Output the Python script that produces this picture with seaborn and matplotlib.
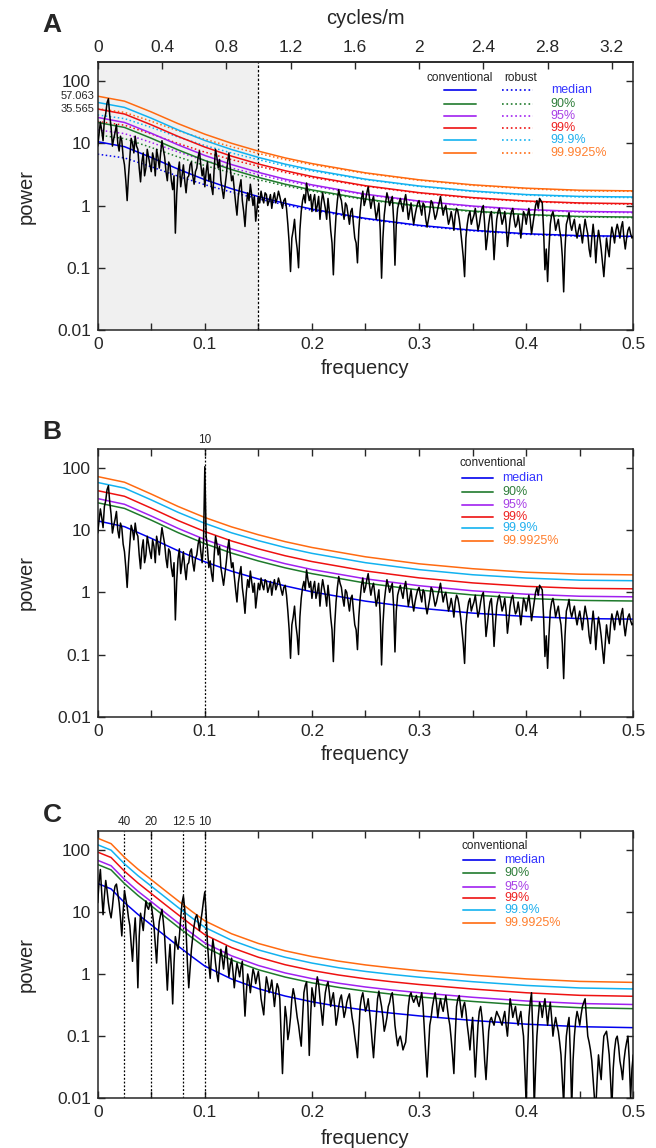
import numpy as np
import matplotlib
matplotlib.use("Agg")
import matplotlib.pyplot as plt
import matplotlib.transforms as mtransforms
from matplotlib.ticker import NullLocator
import seaborn as sns

sns.set_style("ticks")
plt.rcParams['font.family'] = ['Liberation Sans', 'DejaVu Sans']

# spectrum frequencies (cycles per sample), 0 .. 0.5
freq = np.linspace(0, 0.5, 401)

# panel A spectrum
power_a = [
    9, 14, 22, 16, 11, 24, 30, 45, 52, 28, 18, 9, 12, 15, 20, 10, 7.5, 13, 11, 6,
    4.5, 2.5, 1.2, 3, 6, 12, 10, 7, 13, 9, 8, 4, 2.4, 5, 7, 3, 4, 8, 6, 4.5,
    3.5, 7, 5.5, 3, 8, 6, 4, 7, 11, 8, 6, 3.5, 2.5, 5, 4.5, 2.5, 1.8, 3, 0.36, 1.5,
    3.5, 5, 2, 3, 4.5, 2.5, 1.6, 2.8, 3, 4.5, 5, 3, 2.2, 3.5, 4, 6, 7.5, 4.5, 3, 4,
    2, 3.5, 5, 2.5, 3.2, 2, 1.5, 4, 8, 6, 4, 5.5, 2.5, 1.8, 1.3, 2, 3, 5, 7, 4,
    2.5, 3, 1.8, 1.1, 0.7, 1.4, 2, 2.6, 1.2, 0.8, 0.46, 1, 1.6, 1.2, 2.2, 1.5, 1, 1.4, 0.56, 0.9,
    1.4, 1.1, 1.7, 1.3, 1.1, 1.6, 1.5, 1.0, 1.2, 1.5, 0.9, 1.3, 1.6, 1.1, 1.3, 1.7, 1.4, 1.1, 0.9, 1.2,
    1.3, 0.9, 0.5, 0.25, 0.087, 0.3, 0.4, 0.6, 0.3, 0.2, 0.1, 0.4, 0.8, 1.2, 1.5, 1.1, 2.3, 1.6, 1.2, 1.5,
    0.8, 1.2, 1.5, 0.8, 1.0, 1.4, 0.6, 1.1, 1.6, 1.2, 0.9, 0.6, 1.3, 0.8, 0.4, 0.25, 0.077, 0.3, 0.7, 1.2,
    1.8, 1.4, 1.2, 0.8, 0.6, 1.1, 1.0, 0.7, 0.5, 0.8, 0.9, 0.5, 0.3, 0.25, 0.12, 0.4, 0.8, 1.3, 1.7, 1.0,
    1.2, 1.6, 2.0, 1.3, 0.9, 1.2, 1.4, 0.9, 0.6, 0.8, 1.1, 0.4, 0.068, 0.3, 0.7, 1.1, 1.6, 1.3, 1.0, 1.2,
    1.4, 0.6, 0.11, 0.5, 0.9, 1.1, 1.3, 1.0, 0.8, 1.2, 1.5, 1.0, 0.6, 0.8, 1.1, 0.7, 0.5, 0.7, 0.9, 1.1,
    1.2, 0.9, 0.7, 1.1, 1.0, 0.6, 0.45, 0.6, 0.8, 1.2, 1.1, 0.8, 0.6, 0.7, 0.9, 1.1, 1.4, 1.0, 0.7, 0.9,
    1.0, 0.7, 0.5, 0.6, 0.8, 0.6, 0.4, 0.7, 0.9, 0.8, 0.6, 0.4, 0.25, 0.15, 0.072, 0.3, 0.5, 0.7, 0.8, 0.5,
    0.6, 0.7, 0.9, 0.6, 0.4, 0.5, 0.7, 0.9, 1.0, 0.5, 0.195, 0.3, 0.5, 0.7, 0.8, 0.4, 0.135, 0.3, 0.6, 0.8,
    0.9, 0.7, 0.5, 0.6, 0.8, 0.5, 0.22, 0.35, 0.6, 0.8, 0.9, 0.6, 0.45, 0.5, 0.7, 0.5, 0.3, 0.5, 0.8, 0.7,
    0.5, 0.7, 0.9, 0.6, 0.35, 0.5, 0.7, 1.0, 1.2, 0.9, 1.3, 1.2, 1.1, 0.4, 0.093, 0.2, 0.06, 0.2, 0.5, 0.7,
    0.8, 0.6, 0.4, 0.5, 0.6, 0.4, 0.3, 0.15, 0.041, 0.2, 0.5, 0.6, 0.77, 0.5, 0.4, 0.5, 0.6, 0.4, 0.3, 0.4,
    0.5, 0.35, 0.25, 0.4, 0.6, 0.45, 0.35, 0.2, 0.15, 0.3, 0.5, 0.3, 0.12, 0.25, 0.4, 0.3, 0.2, 0.12, 0.072, 0.15,
    0.3, 0.2, 0.15, 0.3, 0.45, 0.35, 0.25, 0.4, 0.5, 0.4, 0.3, 0.45, 0.55, 0.3, 0.2, 0.3, 0.4, 0.45, 0.35, 0.3,
    0.32,
]

# panel B spectrum (same record plus a sinusoid at f = 0.1)
power_b = [
    9, 14, 22, 16, 11, 24, 30, 45, 52, 28, 18, 9, 12, 15, 20, 10, 7.5, 13, 11, 6,
    4.5, 2.5, 1.2, 3, 6, 12, 10, 7, 13, 9, 8, 4, 2.4, 5, 7, 3, 4, 8, 6, 4.5,
    3.5, 7, 5.5, 3, 8, 6, 4, 7, 11, 8, 6, 3.5, 2.5, 5, 4.5, 2.5, 1.8, 3, 0.36, 1.5,
    3.5, 5, 2, 3, 4.5, 2.5, 1.6, 2.8, 3, 4.5, 5, 3, 2.2, 3.5, 4, 6, 7.5, 4.5, 3, 6,
    105, 8, 5, 2.5, 3.2, 2, 1.5, 4, 8, 6, 4, 5.5, 2.5, 1.8, 1.3, 2, 3, 5, 7, 4,
    2.5, 3, 1.8, 1.1, 0.7, 1.4, 2, 2.6, 1.2, 0.8, 0.46, 1, 1.6, 1.2, 2.2, 1.5, 1, 1.4, 0.56, 0.9,
    1.4, 1.1, 1.7, 1.3, 1.1, 1.6, 1.5, 1.0, 1.2, 1.5, 0.9, 1.3, 1.6, 1.1, 1.3, 1.7, 1.4, 1.1, 0.9, 1.2,
    1.3, 0.9, 0.5, 0.25, 0.087, 0.3, 0.4, 0.6, 0.3, 0.2, 0.1, 0.4, 0.8, 1.2, 1.5, 1.1, 2.3, 1.6, 1.2, 1.5,
    0.8, 1.2, 1.5, 0.8, 1.0, 1.4, 0.6, 1.1, 1.6, 1.2, 0.9, 0.6, 1.3, 0.8, 0.4, 0.25, 0.077, 0.3, 0.7, 1.2,
    1.8, 1.4, 1.2, 0.8, 0.6, 1.1, 1.0, 0.7, 0.5, 0.8, 0.9, 0.5, 0.3, 0.25, 0.12, 0.4, 0.8, 1.3, 1.7, 1.0,
    1.2, 1.6, 2.0, 1.3, 0.9, 1.2, 1.4, 0.9, 0.6, 0.8, 1.1, 0.4, 0.068, 0.3, 0.7, 1.1, 1.6, 1.3, 1.0, 1.2,
    1.4, 0.6, 0.11, 0.5, 0.9, 1.1, 1.3, 1.0, 0.8, 1.2, 1.5, 1.0, 0.6, 0.8, 1.1, 0.7, 0.5, 0.7, 0.9, 1.1,
    1.2, 0.9, 0.7, 1.1, 1.0, 0.6, 0.45, 0.6, 0.8, 1.2, 1.1, 0.8, 0.6, 0.7, 0.9, 1.1, 1.4, 1.0, 0.7, 0.9,
    1.0, 0.7, 0.5, 0.6, 0.8, 0.6, 0.4, 0.7, 0.9, 0.8, 0.6, 0.4, 0.25, 0.15, 0.072, 0.3, 0.5, 0.7, 0.8, 0.5,
    0.6, 0.7, 0.9, 0.6, 0.4, 0.5, 0.7, 0.9, 1.0, 0.5, 0.195, 0.3, 0.5, 0.7, 0.8, 0.4, 0.135, 0.3, 0.6, 0.8,
    0.9, 0.7, 0.5, 0.6, 0.8, 0.5, 0.22, 0.35, 0.6, 0.8, 0.9, 0.6, 0.45, 0.5, 0.7, 0.5, 0.3, 0.5, 0.8, 0.7,
    0.5, 0.7, 0.9, 0.6, 0.35, 0.5, 0.7, 1.0, 1.2, 0.9, 1.3, 1.2, 1.1, 0.4, 0.093, 0.2, 0.06, 0.2, 0.5, 0.7,
    0.8, 0.6, 0.4, 0.5, 0.6, 0.4, 0.3, 0.15, 0.041, 0.2, 0.5, 0.6, 0.77, 0.5, 0.4, 0.5, 0.6, 0.4, 0.3, 0.4,
    0.5, 0.35, 0.25, 0.4, 0.6, 0.45, 0.35, 0.2, 0.15, 0.3, 0.5, 0.3, 0.12, 0.25, 0.4, 0.3, 0.2, 0.12, 0.072, 0.15,
    0.3, 0.2, 0.15, 0.3, 0.45, 0.35, 0.25, 0.4, 0.5, 0.4, 0.3, 0.45, 0.55, 0.3, 0.2, 0.3, 0.4, 0.45, 0.35, 0.3,
    0.32,
]

# panel C spectrum
power_c = [
    14, 30, 48, 20, 9, 18, 32, 22, 14, 10, 8, 12, 20, 26, 28, 20, 14, 8, 4.1, 10,
    22, 16, 12, 8, 6, 3, 1.6, 4, 8, 3, 0.6, 4, 9.5, 7, 5, 9, 15, 12, 11, 14,
    13, 9, 6, 3, 1.5, 4, 7, 9, 11, 7, 4, 1.5, 0.55, 1.5, 3, 1.2, 0.33, 1.5, 4, 3,
    2.5, 4, 8, 14, 18, 11, 5, 1.5, 0.6, 1.2, 2.5, 4, 6, 8, 9, 7, 5, 7, 10, 15,
    21, 9, 3, 1.5, 0.85, 2, 3.6, 2.5, 1.5, 1.0, 0.75, 1.5, 2.5, 1.8, 1.2, 2, 2.8, 1.6, 0.9, 1.4,
    1.8, 1.1, 0.6, 1.0, 1.5, 1.2, 0.9, 1.3, 1.6, 0.6, 0.21, 0.5, 1.0, 0.8, 0.5, 0.8, 1.2, 1.0, 0.7, 0.9,
    1.1, 0.7, 0.4, 0.3, 0.22, 0.5, 0.9, 0.7, 0.5, 0.6, 0.8, 0.5, 0.3, 0.5, 0.7, 0.6, 0.4, 0.1, 0.025, 0.1,
    0.3, 0.2, 0.088, 0.12, 0.2, 0.4, 0.58, 0.45, 0.3, 0.2, 0.15, 0.1, 0.069, 0.2, 0.5, 0.65, 0.75, 0.3, 0.049, 0.2,
    0.6, 0.45, 0.3, 0.6, 0.9, 0.7, 0.4, 0.25, 0.15, 0.3, 0.5, 0.65, 0.75, 0.5, 0.3, 0.4, 0.5, 0.3, 0.15, 0.2,
    0.3, 0.4, 0.46, 0.3, 0.2, 0.25, 0.35, 0.42, 0.48, 0.3, 0.2, 0.15, 0.1, 0.07, 0.045, 0.12, 0.3, 0.42, 0.5, 0.35,
    0.25, 0.3, 0.4, 0.25, 0.15, 0.08, 0.045, 0.1, 0.2, 0.4, 0.53, 0.4, 0.3, 0.2, 0.12, 0.15, 0.2, 0.3, 0.35, 0.45,
    0.5, 0.3, 0.15, 0.1, 0.07, 0.09, 0.1, 0.08, 0.06, 0.07, 0.08, 0.15, 0.3, 0.45, 0.5, 0.4, 0.35, 0.4, 0.45, 0.35,
    0.3, 0.4, 0.5, 0.3, 0.12, 0.05, 0.022, 0.06, 0.15, 0.2, 0.3, 0.4, 0.5, 0.35, 0.2, 0.3, 0.4, 0.3, 0.25, 0.35,
    0.45, 0.3, 0.2, 0.15, 0.09, 0.05, 0.025, 0.1, 0.3, 0.4, 0.45, 0.3, 0.2, 0.3, 0.35, 0.25, 0.15, 0.1, 0.06, 0.12,
    0.2, 0.07, 0.022, 0.06, 0.15, 0.25, 0.3, 0.2, 0.1, 0.04, 0.02, 0.05, 0.12, 0.18, 0.2, 0.17, 0.15, 0.2, 0.25, 0.22,
    0.2, 0.17, 0.15, 0.2, 0.25, 0.15, 0.1, 0.2, 0.4, 0.3, 0.2, 0.25, 0.3, 0.2, 0.15, 0.2, 0.25, 0.15, 0.1, 0.03,
    0.008, 0.05, 0.2, 0.35, 0.5, 0.1, 0.007, 0.03, 0.1, 0.2, 0.35, 0.3, 0.2, 0.3, 0.4, 0.25, 0.15, 0.25, 0.35, 0.2,
    0.1, 0.15, 0.2, 0.15, 0.12, 0.08, 0.05, 0.02, 0.008, 0.04, 0.1, 0.15, 0.2, 0.05, 0.007, 0.04, 0.1, 0.18, 0.25, 0.2,
    0.15, 0.22, 0.3, 0.35, 0.4, 0.2, 0.1, 0.08, 0.06, 0.04, 0.02, 0.01, 0.007, 0.02, 0.05, 0.03, 0.02, 0.05, 0.1, 0.11,
    0.12, 0.08, 0.05, 0.02, 0.007, 0.03, 0.06, 0.09, 0.1, 0.07, 0.04, 0.03, 0.02, 0.04, 0.06, 0.08, 0.1, 0.04, 0.01, 0.03,
    0.05,
]

# confidence levels
level_names = ['median', '90%', '95%', '99%', '99.9%', '99.9925%']
line_colors = ['#0000ee', '#1f7a2c', '#a020f0', '#ee1111', '#12b2f0', '#ff6a10']
text_colors = ['#3535ff', '#2e7d3a', '#a840e6', '#ee2222', '#22b0ee', '#ff8030']

level_freq_ab = [0, 0.025, 0.05, 0.075, 0.1, 0.125, 0.15, 0.175, 0.2, 0.25, 0.3, 0.35, 0.4, 0.45, 0.5]

# A, conventional
a_conv_median = [10.6, 8.82, 5.91, 3.85, 2.60, 1.86, 1.39, 1.08, 0.876, 0.621, 0.481, 0.400, 0.352, 0.328, 0.320]
a_conv_90 = [21.6, 17.97, 12.05, 7.84, 5.29, 3.78, 2.83, 2.20, 1.78, 1.27, 0.981, 0.814, 0.717, 0.667, 0.652]
a_conv_95 = [26.0, 21.6, 14.5, 9.44, 6.37, 4.55, 3.41, 2.65, 2.15, 1.52, 1.18, 0.980, 0.863, 0.803, 0.785]
a_conv_99 = [35.5, 29.5, 19.8, 12.9, 8.70, 6.21, 4.65, 3.62, 2.93, 2.08, 1.61, 1.34, 1.18, 1.10, 1.07]
a_conv_999 = [45.3, 37.7, 25.3, 16.4, 11.1, 7.93, 5.93, 4.62, 3.74, 2.65, 2.06, 1.71, 1.50, 1.40, 1.37]
a_conv_top = [57.1, 47.5, 31.9, 20.7, 14.0, 9.99, 7.48, 5.82, 4.72, 3.35, 2.59, 2.15, 1.90, 1.76, 1.72]

# A, robust
a_rob_median = [6.68, 5.82, 4.20, 2.96, 2.16, 1.64, 1.28, 1.02, 0.841, 0.609, 0.471, 0.392, 0.345, 0.321, 0.314]
a_rob_90 = [13.6, 11.9, 8.56, 6.04, 4.39, 3.33, 2.60, 2.07, 1.71, 1.24, 0.961, 0.798, 0.703, 0.654, 0.639]
a_rob_95 = [16.4, 14.3, 10.3, 7.27, 5.29, 4.00, 3.14, 2.49, 2.06, 1.49, 1.16, 0.960, 0.846, 0.787, 0.769]
a_rob_99 = [22.4, 19.5, 14.1, 9.93, 7.22, 5.46, 4.28, 3.40, 2.81, 2.04, 1.58, 1.31, 1.16, 1.08, 1.05]
a_rob_999 = [28.5, 24.9, 18.0, 12.6, 9.21, 6.98, 5.46, 4.34, 3.59, 2.60, 2.02, 1.68, 1.47, 1.37, 1.34]
a_rob_top = [36.0, 31.4, 22.6, 15.9, 11.6, 8.79, 6.88, 5.47, 4.53, 3.28, 2.54, 2.11, 1.86, 1.72, 1.69]

# B, conventional
b_conv_median = [14.1, 11.4, 7.39, 4.67, 3.10, 2.19, 1.64, 1.27, 1.02, 0.722, 0.558, 0.464, 0.409, 0.379, 0.371]
b_conv_90 = [27.6, 22.4, 14.5, 9.14, 6.07, 4.28, 3.20, 2.48, 2.00, 1.41, 1.09, 0.908, 0.800, 0.742, 0.726]
b_conv_95 = [32.2, 26.1, 16.9, 10.7, 7.08, 4.99, 3.74, 2.89, 2.33, 1.65, 1.28, 1.06, 0.934, 0.866, 0.847]
b_conv_99 = [43.2, 35.1, 22.6, 14.3, 9.50, 6.70, 5.01, 3.88, 3.13, 2.21, 1.71, 1.42, 1.25, 1.16, 1.14]
b_conv_999 = [58.5, 47.5, 30.7, 19.4, 12.9, 9.07, 6.79, 5.26, 4.24, 3.00, 2.32, 1.92, 1.70, 1.57, 1.54]
b_conv_top = [72.8, 59.1, 38.1, 24.1, 16.0, 11.3, 8.44, 6.54, 5.27, 3.73, 2.88, 2.40, 2.11, 1.96, 1.91]

# C, conventional
level_freq_c = [0, 0.0125, 0.025, 0.0375, 0.05, 0.0625, 0.075, 0.0875, 0.1, 0.125, 0.15, 0.175, 0.2,
                0.225, 0.25, 0.275, 0.3, 0.35, 0.4, 0.45, 0.5]
c_conv_median = [28.6, 23.4, 14.1, 9.12, 6.17, 4.17, 2.82, 1.93, 1.34, 0.83, 0.58, 0.442, 0.357,
                 0.301, 0.262, 0.234, 0.212, 0.179, 0.156, 0.142, 0.137]
c_conv_90 = [57.8, 47.3, 28.5, 18.4, 12.5, 8.42, 5.70, 3.90, 2.71, 1.68, 1.17, 0.893, 0.721,
             0.608, 0.529, 0.473, 0.428, 0.362, 0.315, 0.287, 0.277]
c_conv_95 = [67.5, 55.2, 33.3, 21.5, 14.6, 9.84, 6.66, 4.55, 3.16, 1.96, 1.37, 1.04, 0.843,
             0.710, 0.618, 0.552, 0.500, 0.422, 0.368, 0.335, 0.323]
c_conv_99 = [91.5, 74.9, 45.1, 29.2, 19.7, 13.3, 9.02, 6.18, 4.29, 2.66, 1.86, 1.41, 1.14,
             0.963, 0.838, 0.749, 0.678, 0.573, 0.499, 0.454, 0.438]
c_conv_999 = [120, 98.3, 59.2, 38.3, 25.9, 17.5, 11.8, 8.11, 5.63, 3.49, 2.44, 1.86, 1.50,
              1.26, 1.10, 0.983, 0.890, 0.752, 0.655, 0.596, 0.575]
c_conv_top = [153, 125, 75.4, 48.8, 33.0, 22.3, 15.1, 10.3, 7.17, 4.44, 3.10, 2.36, 1.91,
              1.61, 1.40, 1.25, 1.13, 0.958, 0.835, 0.760, 0.733]

a_conv = [a_conv_median, a_conv_90, a_conv_95, a_conv_99, a_conv_999, a_conv_top]
a_rob = [a_rob_median, a_rob_90, a_rob_95, a_rob_99, a_rob_999, a_rob_top]
b_conv = [b_conv_median, b_conv_90, b_conv_95, b_conv_99, b_conv_999, b_conv_top]
c_conv = [c_conv_median, c_conv_90, c_conv_95, c_conv_99, c_conv_999, c_conv_top]

# annotated periods
period_freq_b = [0.1]
period_text_b = ['10']
period_freq_c = [0.025, 0.05, 0.08, 0.1]
period_text_c = ['40', '20', '12.5', '10']
marked_levels_a = [57.063, 35.565]

W, H = 656, 1148
fig = plt.figure(figsize=(W / 100, H / 100), dpi=100)


def px_box(top, bottom, left=97.7, right=633.3):
    return [left / W, 1 - bottom / H, (right - left) / W, (bottom - top) / H]


def setup_axes(ax, top_ticks=True):
    ax.set_yscale('log')
    ax.set_xlim(0, 0.5)
    ax.set_ylim(0.01, 200)
    ax.set_xticks(np.arange(0, 0.501, 0.05))
    ax.set_xticklabels(['0', '', '0.1', '', '0.2', '', '0.3', '', '0.4', '', '0.5'])
    ax.set_yticks([0.01, 0.1, 1, 10, 100])
    ax.set_yticklabels(['0.01', '0.1', '1', '10', '100'])
    ax.yaxis.set_minor_locator(NullLocator())
    ax.xaxis.set_minor_locator(NullLocator())
    ax.tick_params(direction='in', length=5, width=1, labelsize=12.5,
                   top=top_ticks, right=True, pad=5)
    for s in ax.spines.values():
        s.set_linewidth(1.1)
        s.set_visible(True)
    ax.set_xlabel('')
    ax.set_ylabel('')


def draw_levels(ax, xs, curves, ls='-'):
    for vals, col in zip(curves, line_colors):
        sns.lineplot(x=xs, y=vals, ax=ax, color=col, lw=1.1, linestyle=ls,
                     estimator=None, sort=False, legend=False)


def draw_legend(ax, title_xy, rows_y, line_x, label_x, title_ha='left',
                robust_line_x=None, robust_xy=None):
    tr = ax.transAxes
    ax.text(title_xy[0], title_xy[1], 'conventional', transform=tr, ha=title_ha,
            va='center', fontsize=8.5, color='#222222')
    if robust_xy is not None:
        ax.text(robust_xy[0], robust_xy[1], 'robust', transform=tr, ha='center',
                va='center', fontsize=8.5, color='#222222')
    for y, name, lc, tc in zip(rows_y, level_names, line_colors, text_colors):
        ax.plot(line_x, [y, y], transform=tr, color=lc, lw=1.4, alpha=0.85)
        if robust_line_x is not None:
            ax.plot(robust_line_x, [y, y], transform=tr, color=lc, lw=1.2, ls=':')
        ax.text(label_x, y, name, transform=tr, ha='left', va='center',
                fontsize=9, color=tc)


def mark_periods(ax, fs, texts):
    trans = mtransforms.blended_transform_factory(ax.transData, ax.transAxes)
    for f, t in zip(fs, texts):
        ax.axvline(f, color='black', lw=0.9, ls=(0, (1.5, 1.5)), zorder=1)
        ax.text(f, 1.012, t, transform=trans, ha='center', va='bottom', fontsize=8.5)


def spectrum(ax, power):
    sns.lineplot(x=freq, y=power, ax=ax, color='black', lw=1.1,
                 estimator=None, sort=False, legend=False, zorder=3)


# ---- panel A ----
ax_a = fig.add_axes(px_box(62.3, 330))
ax_a.axvspan(0, 0.15, color='#f0f0f0', zorder=0, lw=0)
ax_a.axvline(0.15, color='black', lw=0.9, ls=(0, (2, 1.5)), zorder=1)
draw_levels(ax_a, level_freq_ab, a_rob, ls=':')
draw_levels(ax_a, level_freq_ab, a_conv)
spectrum(ax_a, power_a)
setup_axes(ax_a, top_ticks=False)
secax = ax_a.secondary_xaxis('top', functions=(lambda f: f / 0.15, lambda c: c * 0.15))
secax.set_xticks([0, 0.4, 0.8, 1.2, 1.6, 2, 2.4, 2.8, 3.2])
secax.set_xticklabels(['0', '0.4', '0.8', '1.2', '1.6', '2', '2.4', '2.8', '3.2'])
secax.tick_params(direction='in', length=5, width=1, labelsize=12.5, pad=5)
secax.spines['top'].set_linewidth(1.1)
ytr = mtransforms.blended_transform_factory(ax_a.transAxes, ax_a.transData)
for v in marked_levels_a:
    ax_a.text(-0.006, v, f'{v:.3f}', transform=ytr, ha='right', va='center', fontsize=8)
draw_legend(ax_a, (0.676, 0.941), [0.897, 0.844, 0.799, 0.754, 0.709, 0.661],
            [0.647, 0.706], 0.846, title_ha='center',
            robust_line_x=[0.755, 0.813], robust_xy=(0.789, 0.941))

# ---- panel B ----
ax_b = fig.add_axes(px_box(449.3, 716.7))
mark_periods(ax_b, period_freq_b, period_text_b)
draw_levels(ax_b, level_freq_ab, b_conv)
spectrum(ax_b, power_b)
setup_axes(ax_b)
draw_legend(ax_b, (0.675, 0.949), [0.893, 0.841, 0.793, 0.748, 0.705, 0.656],
            [0.680, 0.738], 0.755)

# ---- panel C ----
ax_c = fig.add_axes(px_box(831, 1098.3))
mark_periods(ax_c, period_freq_c, period_text_c)
draw_levels(ax_c, level_freq_c, c_conv)
spectrum(ax_c, power_c)
setup_axes(ax_c)
draw_legend(ax_c, (0.680, 0.944), [0.892, 0.843, 0.792, 0.750, 0.705, 0.657],
            [0.682, 0.742], 0.759)

# labels
fig.text(365.5 / W, 1 - 18 / H, 'cycles/m', ha='center', va='center', fontsize=14.5)
for tag, ytag, ymid, yfreq in [('A', 25, 196, 368), ('B', 432, 583, 755), ('C', 815, 965, 1138)]:
    fig.text(52 / W, 1 - ytag / H, tag, ha='center', va='center', fontsize=19, fontweight='bold')
    fig.text(26 / W, 1 - ymid / H, 'power', ha='center', va='center', rotation=90, fontsize=14.5)
    fig.text(365.5 / W, 1 - yfreq / H, 'frequency', ha='center', va='center', fontsize=14.5)

fig.savefig('out.png', dpi=100)
